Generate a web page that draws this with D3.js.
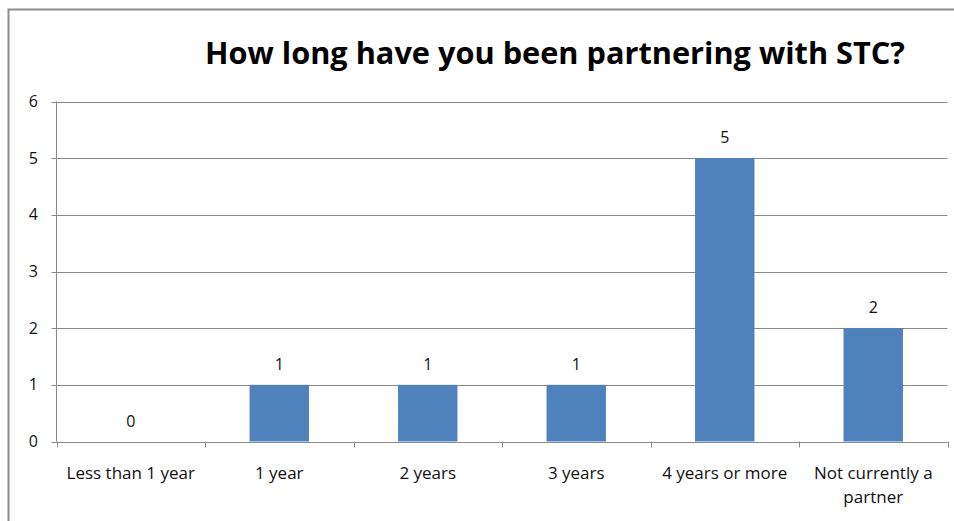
<!DOCTYPE html>
<html>
<head>
<meta charset="utf-8">
<script src="https://cdn.jsdelivr.net/npm/d3@7"></script>
<style>
  body { margin: 0; background: #fff; }
  svg { display: block; font-family: "Open Sans", Lato, sans-serif; }
</style>
</head>
<body>
<script>
var w = 954;
var h = 521;

// chart data
var categories = ["Less than 1 year", "1 year", "2 years", "3 years", "4 years or more", "Not currently a partner"];
var counts = [0, 1, 1, 1, 5, 2];
var yTicks = [0, 1, 2, 3, 4, 5, 6];
var title = "How long have you been partnering with STC?";

var plot = {left: 56.5, right: 947.5, top: 101.5, bottom: 441.5};

var svg = d3.select("body")
    .append("svg")
    .attr("width", w)
    .attr("height", h);

// outer chart border (only left and top visible in the crop)
svg.append("path")
    .attr("d", "M8.5,521 L8.5,9.5 L954,9.5")
    .attr("fill", "none")
    .attr("stroke", "#8c8c8c")
    .attr("stroke-width", 2);

var x = d3.scaleBand()
    .domain(categories)
    .range([plot.left, plot.right])
    .paddingInner(0.6)
    .paddingOuter(0.3);

var xEdge = d3.scaleLinear()
    .domain([0, categories.length])
    .range([plot.left, plot.right]);

var y = d3.scaleLinear()
    .domain([0, 6])
    .range([plot.bottom, plot.top]);

// gridlines
svg.append("g")
    .selectAll("line")
    .data(yTicks)
    .enter()
    .append("line")
    .attr("x1", plot.left - 5)
    .attr("x2", plot.right)
    .attr("y1", function(d){ return Math.round(y(d)) + 0.5; })
    .attr("y2", function(d){ return Math.round(y(d)) + 0.5; })
    .attr("stroke", "#8a8a8a")
    .attr("stroke-width", 1);

// y tick labels
svg.append("g")
    .selectAll("text")
    .data(yTicks)
    .enter()
    .append("text")
    .attr("x", 38)
    .attr("y", function(d){ return y(d); })
    .attr("dy", "0.35em")
    .attr("text-anchor", "end")
    .attr("font-size", 16)
    .attr("fill", "#111")
    .text(function(d){ return d; });

// bars
svg.append("g")
    .selectAll("rect")
    .data(counts)
    .enter()
    .append("rect")
    .attr("x", function(d, i){ return x(categories[i]); })
    .attr("width", x.bandwidth())
    .attr("y", function(d){ return y(d); })
    .attr("height", function(d){ return y(0) - y(d); })
    .attr("fill", "#4f81bd");

// value labels
svg.append("g")
    .selectAll("text")
    .data(counts)
    .enter()
    .append("text")
    .attr("x", function(d, i){ return x(categories[i]) + x.bandwidth() / 2; })
    .attr("y", function(d){ return y(d) - 15; })
    .attr("text-anchor", "middle")
    .attr("font-size", 16)
    .attr("fill", "#111")
    .text(function(d){ return d; });

// axes lines + ticks
svg.append("line")
    .attr("x1", plot.left).attr("x2", plot.left)
    .attr("y1", plot.top).attr("y2", plot.bottom)
    .attr("stroke", "#8a8a8a");

svg.append("g")
    .selectAll("line")
    .data(d3.range(categories.length + 1))
    .enter()
    .append("line")
    .attr("x1", function(d){ return Math.round(xEdge(d)) + 0.5; })
    .attr("x2", function(d){ return Math.round(xEdge(d)) + 0.5; })
    .attr("y1", plot.bottom)
    .attr("y2", plot.bottom + 6)
    .attr("stroke", "#8a8a8a");

// category labels, wrapped like the original
var catLines = {"Not currently a partner": ["Not currently a", "partner"]};
var catText = svg.append("g")
    .selectAll("text")
    .data(categories)
    .enter()
    .append("text")
    .attr("text-anchor", "middle")
    .attr("font-size", 17)
    .attr("fill", "#111")
    .attr("x", function(d){ return x(d) + x.bandwidth() / 2; })
    .attr("y", 479);

catText.each(function(d){
    var lines = catLines[d] || [d];
    var t = d3.select(this);
    lines.forEach(function(l, k){
        t.append("tspan")
            .attr("x", x(d) + x.bandwidth() / 2)
            .attr("dy", k === 0 ? 0 : 24)
            .text(l);
    });
});

// title
svg.append("text")
    .attr("x", 555)
    .attr("y", 64)
    .attr("text-anchor", "middle")
    .attr("font-size", 30)
    .attr("font-weight", "bold")
    .attr("fill", "#000")
    .attr("textLength", 700)
    .attr("lengthAdjust", "spacingAndGlyphs")
    .text(title);
</script>
</body>
</html>
